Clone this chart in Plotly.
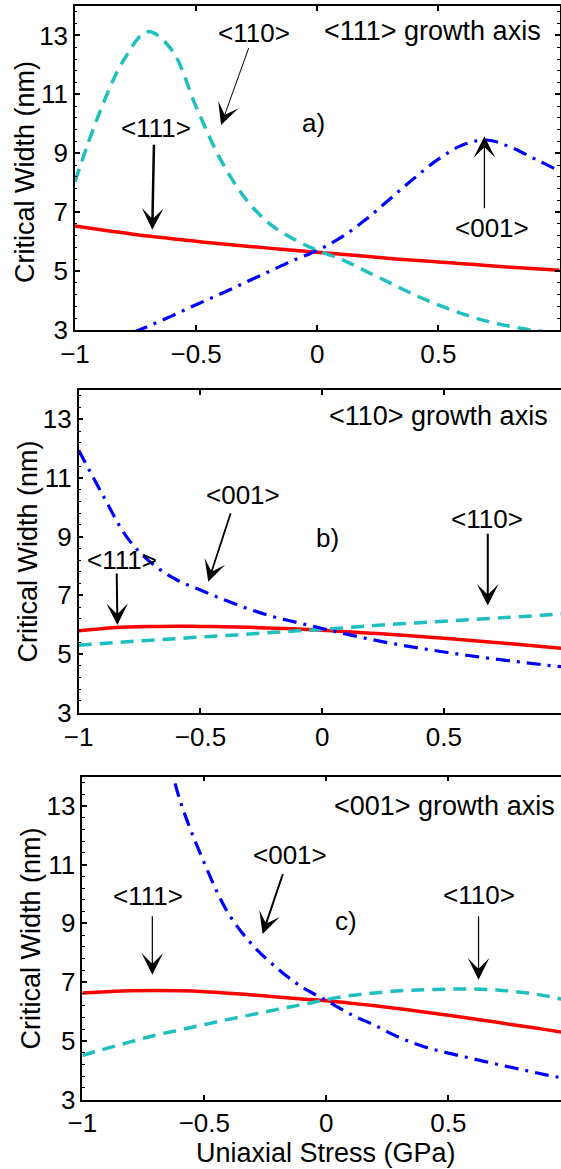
import plotly.graph_objects as go

# Uniaxial stress grid (GPa)
stress = [-1.0, -0.9, -0.8, -0.7, -0.6, -0.5, -0.4, -0.3, -0.2, -0.1, 0.0,
          0.1, 0.2, 0.3, 0.4, 0.5, 0.6, 0.7, 0.8, 0.9, 1.0]

# a) <111> growth axis, critical width (nm)
a_111 = [6.53, 6.41, 6.30, 6.19, 6.10, 6.01, 5.93, 5.85, 5.78, 5.71, 5.64,
         5.57, 5.50, 5.43, 5.37, 5.31, 5.25, 5.19, 5.13, 5.08, 5.03]
a_110 = [8.04, 10.35, 12.15, 13.13, 12.50, 10.58, 8.80, 7.50, 6.63, 6.10, 5.70,
         5.40, 5.00, 4.60, 4.20, 3.85, 3.55, 3.30, 3.12, 2.98, 2.88]
a_001 = [2.30, 2.55, 2.80, 3.12, 3.48, 3.86, 4.22, 4.60, 4.98, 5.36, 5.70,
         6.15, 6.75, 7.45, 8.15, 8.80, 9.28, 9.45, 9.20, 8.80, 8.40]

# b) <110> growth axis
b_111 = [5.79, 5.87, 5.92, 5.94, 5.95, 5.94, 5.93, 5.91, 5.88, 5.85, 5.81,
         5.76, 5.71, 5.66, 5.60, 5.54, 5.47, 5.40, 5.33, 5.26, 5.18]
b_110 = [5.30, 5.36, 5.42, 5.47, 5.52, 5.58, 5.63, 5.68, 5.74, 5.79, 5.84,
         5.90, 5.96, 6.02, 6.07, 6.12, 6.17, 6.22, 6.27, 6.32, 6.38]
b_001 = [11.95, 10.40, 8.96, 8.09, 7.54, 7.18, 6.84, 6.53, 6.27, 6.07, 5.87,
         5.68, 5.50, 5.34, 5.20, 5.07, 4.95, 4.84, 4.74, 4.64, 4.55]

# c) <001> growth axis
c_111 = [6.63, 6.67, 6.70, 6.71, 6.70, 6.67, 6.62, 6.56, 6.49, 6.42, 6.36,
         6.28, 6.19, 6.09, 5.98, 5.87, 5.75, 5.63, 5.50, 5.38, 5.25]
c_110 = [4.50, 4.74, 4.97, 5.19, 5.37, 5.55, 5.73, 5.90, 6.07, 6.23, 6.40,
         6.54, 6.63, 6.70, 6.74, 6.76, 6.76, 6.73, 6.65, 6.53, 6.35]
stress_c001 = [-0.65, -0.6, -0.5, -0.4, -0.3, -0.2, -0.1, 0.0,
               0.1, 0.2, 0.3, 0.4, 0.5, 0.6, 0.7, 0.8, 0.9, 1.0]
c_001 = [14.80, 13.20, 11.05, 9.32, 8.24, 7.46, 6.83, 6.37,
         5.90, 5.52, 5.11, 4.80, 4.58, 4.39, 4.20, 4.02, 3.84, 3.68]

x_ticks = [-1, -0.5, 0, 0.5, 1]
y_ticks = [3, 5, 7, 9, 11, 13]
y_label = "Critical Width (nm)"
x_label = "Uniaxial Stress (GPa)"
panel_tags = ["a)", "b)", "c)"]
growth_titles = ["&lt;111&gt; growth axis", "&lt;110&gt; growth axis",
                 "&lt;001&gt; growth axis"]

RED = "#ff0000"
CYAN = "#1fbfbf"
BLUE = "#0000ff"
FONT = "Liberation Sans, Arial, Helvetica, sans-serif"
FS = 26      # tick labels and curve labels
FS_T = 27    # axis titles and growth-axis captions

W, H = 561, 1169

fig = go.Figure()


def add_curves(xs, red, cyan, blue, xs_blue, axn):
    xa = "x" if axn == 1 else f"x{axn}"
    ya = "y" if axn == 1 else f"y{axn}"
    fig.add_trace(go.Scatter(x=xs, y=red, mode="lines", xaxis=xa, yaxis=ya,
                             line=dict(color=RED, width=3.5, shape="spline"),
                             showlegend=False))
    fig.add_trace(go.Scatter(x=xs, y=cyan, mode="lines", xaxis=xa, yaxis=ya,
                             line=dict(color=CYAN, width=3.5, shape="spline",
                                       dash="13px,8px"),
                             showlegend=False))
    fig.add_trace(go.Scatter(x=xs_blue, y=blue, mode="lines", xaxis=xa, yaxis=ya,
                             line=dict(color=BLUE, width=3.2, shape="spline",
                                       dash="14px,7px,3px,7px"),
                             showlegend=False))


add_curves(stress, a_111, a_110, a_001, stress, 1)
add_curves(stress, b_111, b_110, b_001, stress, 2)
add_curves(stress, c_111, c_110, c_001, stress_c001, 3)

# subplot boxes in pixels: (left, top, bottom, visible x max, right edge)
boxes = [
    (75.0, 6.0, 330.0, 1.0, 559.5),
    (78.7, 390.0, 712.7, 0.9807, 561.0),
    (82.3, 776.5, 1099.5, 0.9619, 561.0),
]
# y-title centres in pixels (x, y)
ytitle_pos = [(25.0, 172.0), (27.5, 552.0), (30.5, 939.0)]
xtitle_pos = (325.6, 1153.0)

axis_line = dict(showline=True, linecolor="black", linewidth=1.5,
                 ticks="inside", ticklen=5, tickwidth=1.5, tickcolor="black",
                 showgrid=False, zeroline=False, automargin=False,
                 tickfont=dict(size=FS, color="black", family=FONT))

layout_axes = {}
for i, (left, top, bottom, xmax, right) in enumerate(boxes, start=1):
    sfx = "" if i == 1 else str(i)
    xdom = [left / W, right / W]
    ydom = [1 - bottom / H, 1 - top / H]
    layout_axes["xaxis" + sfx] = dict(axis_line, domain=xdom, range=[-1, xmax],
                                      tickvals=x_ticks, mirror="ticks",
                                      anchor="y" + sfx)
    layout_axes["yaxis" + sfx] = dict(
        axis_line, domain=ydom, range=[3, 14], tickvals=y_ticks,
        mirror="ticks" if i == 1 else False, anchor="x" + sfx,
        minor=dict(ticks="inside", dtick=0.4, tick0=3, ticklen=2.5,
                   tickwidth=1, tickcolor="black"))

annotations = []

# axis titles placed in paper coordinates
for (px, py) in ytitle_pos:
    annotations.append(dict(text=y_label, x=px / W, y=1 - py / H,
                            xref="paper", yref="paper", showarrow=False,
                            textangle=-90, xanchor="center", yanchor="middle",
                            font=dict(size=FS_T, color="black", family=FONT)))
annotations.append(dict(text=x_label, x=xtitle_pos[0] / W,
                        y=1 - xtitle_pos[1] / H, xref="paper", yref="paper",
                        showarrow=False, xanchor="center", yanchor="middle",
                        font=dict(size=FS_T, color="black", family=FONT)))


def label(txt, x, y, axn, size=FS):
    sfx = "" if axn == 1 else str(axn)
    annotations.append(dict(text=txt, x=x, y=y, xref="x" + sfx, yref="y" + sfx,
                            showarrow=False, xanchor="center", yanchor="middle",
                            font=dict(size=size, color="black", family=FONT)))


def arrow(tail, tip, axn, width):
    sfx = "" if axn == 1 else str(axn)
    annotations.append(dict(text="", x=tip[0], y=tip[1], ax=tail[0], ay=tail[1],
                            xref="x" + sfx, yref="y" + sfx,
                            axref="x" + sfx, ayref="y" + sfx,
                            showarrow=True, arrowhead=3, arrowwidth=width,
                            arrowsize=3.6 / width, arrowcolor="black",
                            standoff=0, startstandoff=0))


# a) <111> growth axis
label(growth_titles[0], 0.475, 13.15, 1, FS_T)
label(panel_tags[0], -0.014, 10.02, 1)
label("&lt;110&gt;", -0.26, 13.07, 1)
arrow((-0.281, 12.62), (-0.397, 9.96), 1, 1.0)
label("&lt;111&gt;", -0.667, 9.85, 1)
arrow((-0.674, 9.34), (-0.681, 6.40), 1, 2.5)
label("&lt;001&gt;", 0.72, 6.46, 1)
arrow((0.69, 7.08), (0.69, 9.58), 1, 1.2)

# b) <110> growth axis
label(growth_titles[1], 0.479, 13.11, 2, FS_T)
label(panel_tags[1], 0.02, 8.94, 2)
label("&lt;001&gt;", -0.327, 10.42, 2)
arrow((-0.374, 9.85), (-0.468, 7.46), 2, 1.8)
label("&lt;111&gt;", -0.823, 8.20, 2)
arrow((-0.844, 7.80), (-0.841, 5.99), 2, 2.0)
label("&lt;110&gt;", 0.675, 9.60, 2)
arrow((0.68, 9.15), (0.68, 6.65), 2, 2.0)

# c) <001> growth axis
label(growth_titles[2], 0.486, 12.98, 3, FS_T)
label(panel_tags[2], 0.082, 9.07, 3)
label("&lt;001&gt;", -0.149, 11.32, 3)
arrow((-0.176, 10.73), (-0.261, 8.64), 3, 2.0)
label("&lt;111&gt;", -0.732, 9.94, 3)
arrow((-0.713, 9.29), (-0.713, 7.25), 3, 1.2)
label("&lt;110&gt;", 0.627, 9.97, 3)
arrow((0.624, 9.29), (0.624, 7.08), 3, 1.2)

fig.update_layout(
    width=W, height=H,
    margin=dict(l=0, r=0, t=0, b=0),
    paper_bgcolor="white", plot_bgcolor="white",
    font=dict(family=FONT, size=FS, color="black"),
    showlegend=False,
    annotations=annotations,
    **layout_axes,
)

fig.write_html("out.html")
